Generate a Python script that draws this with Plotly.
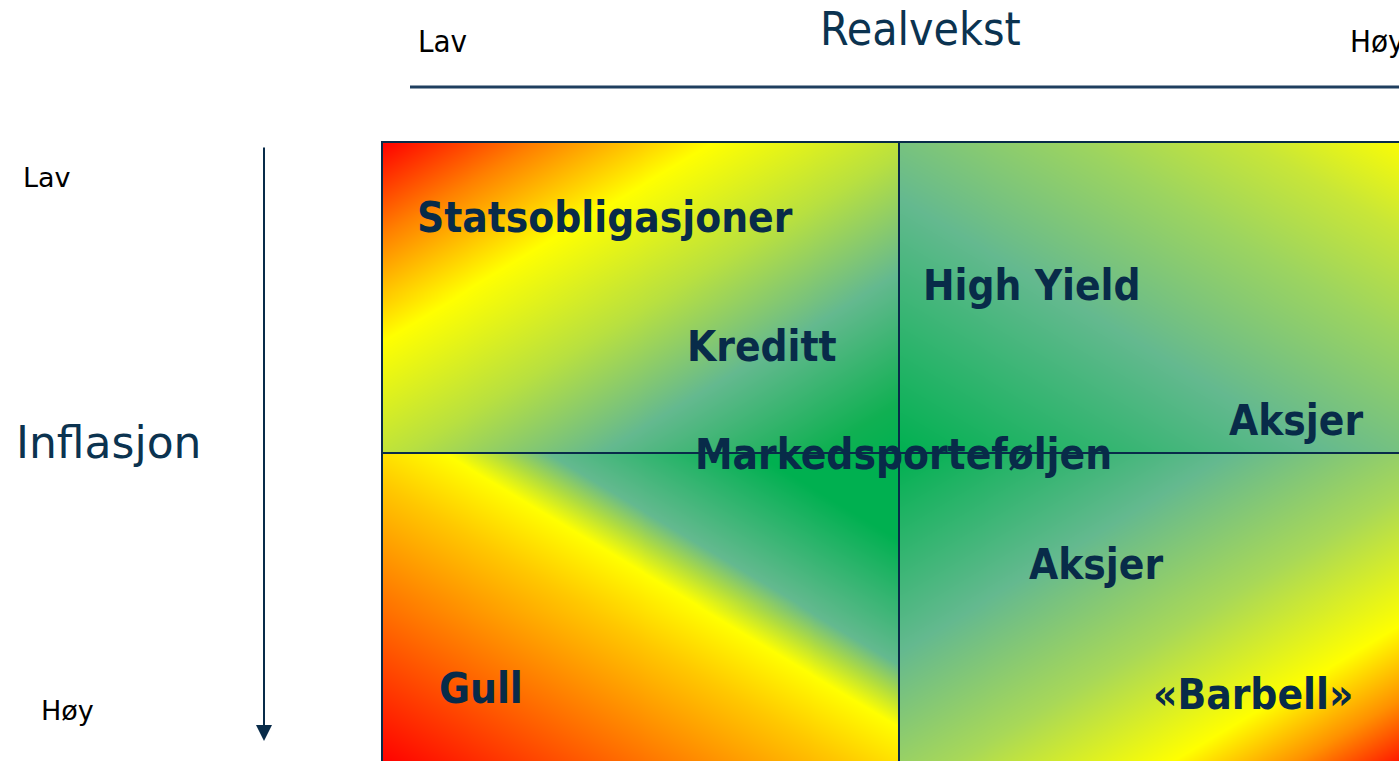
import numpy as np
import plotly.graph_objects as go

# ---- data ----
labels = ["Statsobligasjoner", "Kreditt", "High Yield", "Aksjer",
          "Markedsporteføljen", "Aksjer", "Gull", "«Barbell»"]
# position on the Realvekst (x: 0=Lav .. 2=Høy) / Inflasjon (y: 0=Lav .. 2=Høy) map
label_x = [0.066, 0.588, 1.044, 1.636, 0.603, 1.250, 0.108, 1.489]
label_y = [0.244, 0.659, 0.460, 0.894, 1.006, 1.360, 1.756, 1.775]

x_title = "Realvekst"
y_title = "Inflasjon"
low_label = "Lav"
high_label = "Høy"

NAVY = "#082b49"
W, H = 1399, 761
QX0, QY0, QW, QH = 382, 142, 517, 311   # quadrant pixel geometry


def px2x(px):
    return (px - QX0) / QW


def py2y(py):
    return (py - QY0) / QH


# colour scales for each quadrant (gradient from one corner to the opposite)
cs_tl = [[0, "#ff0000"], [0.15, "#ff8000"], [0.32, "#ffff00"], [0.52, "#b8e040"],
         [0.71, "#64b98f"], [0.92, "#10b052"], [1, "#00b050"]]
cs_tr = [[0, "#00b050"], [0.41, "#64b98f"], [0.67, "#9cd460"], [0.84, "#c8e638"],
         [1, "#ffff00"]]
cs_br = [[0, "#00b050"], [0.32, "#64b98f"], [0.55, "#a8d858"], [0.76, "#ffff00"],
         [0.88, "#ff9000"], [1, "#ff0000"]]
cs_bl = [[0, "#ff0000"], [0.25, "#ff7000"], [0.45, "#ffc800"], [0.56, "#ffff00"],
         [0.61, "#b0dc40"], [0.66, "#64b98f"], [0.86, "#00b050"], [1, "#00b050"]]

fig = go.Figure()


def quad(x0, y0, cs, flip_x, flip_y, nx=104, ny=62):
    xe = np.linspace(x0, x0 + 1, nx + 1)
    ye = np.linspace(y0, y0 + 1, ny + 1)
    xc = (np.arange(nx) + 0.5) / nx
    yc = (np.arange(ny) + 0.5) / ny
    u = 1 - xc if flip_x else xc
    v = 1 - yc if flip_y else yc
    z = (u[None, :] + v[:, None]) / 2
    fig.add_trace(go.Heatmap(x=xe, y=ye, z=z, colorscale=cs, zmin=0, zmax=1,
                             zsmooth="best", showscale=False, hoverinfo="skip"))


quad(0, 0, cs_tl, False, False)   # red at top-left
quad(1, 0, cs_tr, False, True)    # green bottom-left of quadrant, yellow top-right
quad(1, 1, cs_br, False, False)   # green top-left, red bottom-right
quad(0, 1, cs_bl, False, True)    # red bottom-left, green top-right

# grid lines and border
line = dict(color=NAVY, width=2)
fig.add_shape(type="rect", x0=0, y0=0, x1=2, y1=2, line=line)
fig.add_shape(type="line", x0=1, x1=1, y0=0, y1=2, line=line)
fig.add_shape(type="line", x0=0, x1=2, y0=1, y1=1, line=line)
# header rule
fig.add_shape(type="line", x0=px2x(410), x1=2.1, y0=py2y(87), y1=py2y(87),
              line=dict(color="#1f3f5f", width=3))

# quadrant labels
for t, x, y in zip(labels, label_x, label_y):
    fig.add_annotation(x=x, y=y, text=f"<b>{t}</b>", showarrow=False,
                       xanchor="left", yanchor="middle", borderpad=0,
                       font=dict(family="DejaVu Sans Condensed, DejaVu Sans", size=42,
                                 color=NAVY))

cond = "DejaVu Sans Condensed, Liberation Sans Narrow, DejaVu Sans"
# header
fig.add_annotation(x=px2x(920), y=py2y(29), text=x_title, showarrow=False,
                   xanchor="center", yanchor="middle", borderpad=0,
                   font=dict(family=cond, size=46, color="#0b3350"))
fig.add_annotation(x=px2x(417), y=py2y(41), text=low_label, showarrow=False,
                   xanchor="left", yanchor="middle", borderpad=0,
                   font=dict(family=cond, size=31, color="black"))
fig.add_annotation(x=px2x(1349), y=py2y(41), text=high_label, showarrow=False,
                   xanchor="left", yanchor="middle", borderpad=0,
                   font=dict(family=cond, size=31, color="black"))

# left side
fig.add_annotation(x=px2x(22), y=py2y(177), text=low_label, showarrow=False,
                   xanchor="left", yanchor="middle", borderpad=0,
                   font=dict(family="DejaVu Sans", size=27, color="black"))
fig.add_annotation(x=px2x(40), y=py2y(710), text=high_label, showarrow=False,
                   xanchor="left", yanchor="middle", borderpad=0,
                   font=dict(family="DejaVu Sans", size=27, color="black"))
fig.add_annotation(x=px2x(15), y=py2y(442), text=y_title, showarrow=False,
                   xanchor="left", yanchor="middle", borderpad=0,
                   font=dict(family="DejaVu Sans", size=44, color="#0b3350"))

# arrow
fig.add_annotation(x=px2x(264), y=py2y(741), ax=px2x(264), ay=py2y(146),
                   xref="x", yref="y", axref="x", ayref="y", text="",
                   showarrow=True, arrowhead=2, arrowsize=1.6, arrowwidth=2,
                   arrowcolor=NAVY)

fig.update_layout(
    width=W, height=H, margin=dict(l=0, r=0, t=0, b=0),
    paper_bgcolor="white", plot_bgcolor="white", showlegend=False,
    xaxis=dict(range=[px2x(0), px2x(W)], domain=[0, 1], visible=False,
               fixedrange=True),
    yaxis=dict(range=[py2y(H), py2y(0)], domain=[0, 1], visible=False,
               fixedrange=True),
)

fig.write_html("out.html",
               config={"displayModeBar": False, "staticPlot": True},
               post_script="document.body.style.margin='0';"
                           "document.body.style.overflow='hidden';")
